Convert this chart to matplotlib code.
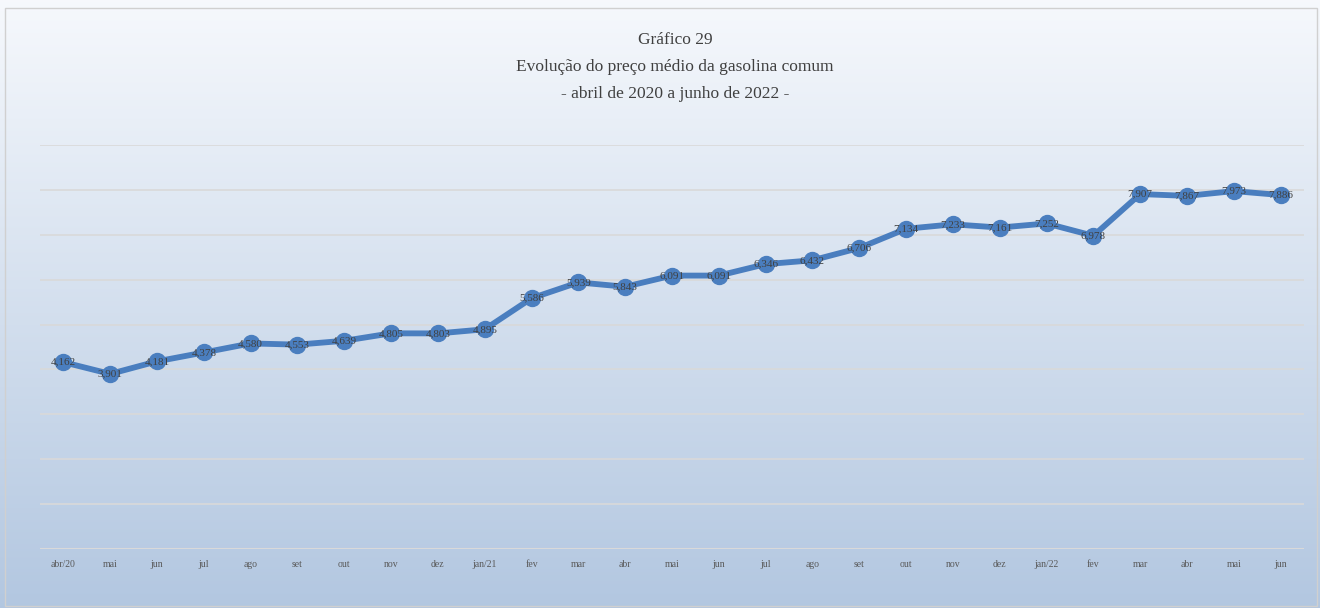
import numpy as np
import matplotlib.pyplot as plt
from matplotlib.patches import Rectangle

months = ['abr/20', 'mai', 'jun', 'jul', 'ago', 'set', 'out', 'nov', 'dez',
          'jan/21', 'fev', 'mar', 'abr', 'mai', 'jun', 'jul', 'ago', 'set',
          'out', 'nov', 'dez', 'jan/22', 'fev', 'mar', 'abr', 'mai', 'jun']
prices = [4.162, 3.901, 4.181, 4.378, 4.580, 4.553, 4.639, 4.805, 4.803,
          4.895, 5.586, 5.939, 5.843, 6.091, 6.091, 6.346, 6.432, 6.706,
          7.134, 7.233, 7.161, 7.252, 6.978, 7.907, 7.867, 7.973, 7.886]
title_lines = ['Gráfico 29',
               'Evolução do preço médio da gasolina comum',
               '- abril de 2020 a junho de 2022 -']

plt.rcParams['font.family'] = ['Liberation Serif', 'DejaVu Serif']

fig = plt.figure(figsize=(13.2, 6.08), dpi=100)

# gradient background
bg = fig.add_axes([0, 0, 1, 1], zorder=-1)
grad = np.linspace(0, 1, 256).reshape(-1, 1)
top = np.array([0.965, 0.975, 0.99])
bottom = np.array([0.70, 0.78, 0.88])
img = top + (bottom - top) * grad[..., None]
bg.imshow(img, aspect='auto', extent=[0, 1, 0, 1])
bg.set_xlim(0, 1)
bg.set_ylim(0, 1)
bg.axis('off')
bg.add_patch(Rectangle((0.004, 0.003), 0.994, 0.984, fill=False,
                       edgecolor='#d0d0d0', linewidth=1))

ax = fig.add_axes([0.0303, 0.097, 0.9576, 0.6645])
ax.patch.set_alpha(0)
x = np.arange(len(months))
ax.plot(x, prices, color='#4a7ebf', linewidth=4.2, marker='o',
        markersize=11.5, zorder=3)
for xi, v in zip(x, prices):
    ax.text(xi, v, f'{v:.3f}'.replace('.', ','), ha='center', va='center',
            fontsize=8, color='#404040', zorder=4)

ax.set_xlim(-0.5, len(months) - 0.5)
ax.set_ylim(0, 9)
ax.set_yticks(np.arange(0, 10, 1))
ax.set_yticklabels([])
ax.set_xticks(x)
ax.set_xticklabels(months, fontsize=7, color='#595959')
ax.tick_params(axis='both', length=0, pad=8)
ax.grid(axis='y', color='#d9d9d9', linewidth=1.2)
for s in ax.spines.values():
    s.set_visible(False)
ax.axhline(0, color='#d9d9d9', linewidth=1.5)

for t, yy in zip(title_lines, [0.934, 0.889, 0.845]):
    fig.text(0.5115, yy, t, ha='center', va='center', fontsize=12.5,
             color='#404040')

fig.savefig('out.png', dpi=100)
